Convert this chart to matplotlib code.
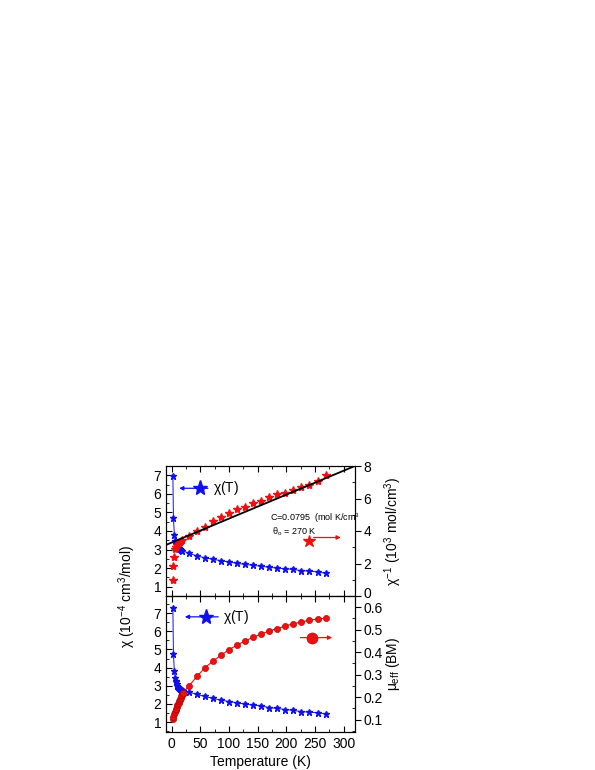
import matplotlib.pyplot as plt
import matplotlib.transforms as mtransforms
import numpy as np

plt.rcParams['font.family'] = ['Liberation Sans', 'DejaVu Sans']
plt.rcParams['mathtext.fontset'] = 'custom'
plt.rcParams['mathtext.rm'] = 'Liberation Sans'
plt.rcParams['mathtext.it'] = 'Liberation Sans'

# top panel: chi(T) and 1/chi
T_top = [2, 3, 4.6, 6, 8, 10, 12, 14, 16, 18, 30, 44, 58, 72, 86, 100, 114, 128, 142,
         156, 170, 184, 198, 212, 226, 240, 255, 270]
chi_top = [6.95, 4.68, 3.81, 3.45, 3.3, 3.18, 3.08, 3.02, 2.98, 2.95, 2.8, 2.66, 2.55, 2.48,
           2.4, 2.33, 2.26, 2.2, 2.15, 2.1, 2.05, 2.0, 1.97, 1.93, 1.87, 1.84, 1.79, 1.72]
inv_chi = [0.98, 1.85, 2.42, 2.87, 3.0, 3.15, 3.25, 3.3, 3.38, 3.45, 3.71, 4.02, 4.23, 4.6,
           4.86, 5.09, 5.33, 5.46, 5.7, 5.87, 6.11, 6.26, 6.36, 6.54, 6.73, 6.85, 7.06, 7.45]
fit_T = [-10, 320]
fit_intercept = 3.29
fit_slope = 0.01473

# bottom panel: chi(T) and mu_eff
T_bot = [2, 3, 4.6, 6, 7, 8, 9, 10, 11, 12, 13, 14, 15, 16, 17, 18, 19, 20,
         30, 44, 58, 72, 86, 100, 114, 128, 142, 156, 170, 184, 198, 212, 226, 240, 255, 270]
chi_bot = [7.31, 4.73, 3.81, 3.41, 3.28, 3.18, 3.08, 3.0, 2.95, 2.9, 2.86, 2.83, 2.8, 2.78,
           2.76, 2.74, 2.72, 2.7, 2.66, 2.52, 2.41, 2.3, 2.21, 2.13, 2.06, 1.99, 1.93, 1.88,
           1.8, 1.75, 1.69, 1.64, 1.58, 1.54, 1.51, 1.45]
mu_eff = [0.103, 0.113, 0.125, 0.135, 0.142, 0.149, 0.156, 0.163, 0.169, 0.175, 0.181,
          0.187, 0.193, 0.198, 0.204, 0.209, 0.214, 0.219, 0.25, 0.292, 0.331, 0.36, 0.387,
          0.411, 0.432, 0.45, 0.466, 0.481, 0.494, 0.505, 0.516, 0.527, 0.534, 0.542, 0.548,
          0.551]

W, H = 595, 770
fig = plt.figure(figsize=(W / 100, H / 100), dpi=100)
L, R = 166 / W, 355 / W
ax1 = fig.add_axes([L, 1 - 596 / H, R - L, (596 - 466) / H])
ax2 = fig.add_axes([L, 1 - 732 / H, R - L, (732 - 596) / H], sharex=ax1)
ax1r = ax1.twinx()
ax2r = ax2.twinx()

blue = '#1010ee'
red = '#ee1010'
fs = 10

ax1.plot(T_top, chi_top, '-', color=blue, lw=0.7, marker='*', ms=5, mec=blue, mfc=blue)
ax1r.plot(T_top, inv_chi, ls='none', marker='*', ms=6, color=red)
fit_y = [fit_intercept + fit_slope * t for t in fit_T]
ax1r.plot(fit_T, fit_y, color='black', lw=1.3)

ax2.plot(T_bot, chi_bot, '-', color=blue, lw=0.7, marker='*', ms=5, mec=blue, mfc=blue)
ax2r.plot(T_bot, mu_eff, '-', color=red, lw=0.8, marker='o', ms=4.5, mfc=red, mec='#b00000', mew=0.4)

ax1.set_xlim(-10, 320)
ax1.set_ylim(0.5, 7.5)
ax1r.set_ylim(0, 8)
ax2.set_ylim(0.45, 7.95)
ax2r.set_ylim(0.045, 0.65)

for a in (ax1, ax2):
    a.set_yticks(range(1, 8))
    a.set_yticks(np.arange(0.5, 8, 0.5), minor=True)
    a.set_xticks(range(0, 301, 50))
    a.set_xticks(range(-0, 321, 25), minor=True)
    a.tick_params(axis='both', which='both', direction='in', top=True, labelsize=fs)
    a.tick_params(which='major', length=4)
    a.tick_params(which='minor', length=2)
ax1.tick_params(labelbottom=False)
ax1r.set_yticks(range(0, 9, 2))
ax1r.set_yticks(range(0, 9, 1), minor=True)
ax2r.set_yticks(np.arange(0.1, 0.61, 0.1))
ax2r.set_yticks(np.arange(0.05, 0.65, 0.05), minor=True)
for a in (ax1r, ax2r):
    a.tick_params(which='major', direction='out', length=4, labelsize=fs, pad=2)
    a.tick_params(which='minor', direction='in', length=2)

# nudge the "0" of the upper right axis up a little so it clears "0.6"
zero_lbl = ax1r.get_yticklabels()[0]
zero_lbl.set_transform(zero_lbl.get_transform() +
                       mtransforms.ScaledTranslation(0, 3 / 100, fig.dpi_scale_trans))

# legend-like annotations
ax1.plot([50], [6.3], marker='*', ms=11, color=blue)
ax1.annotate('', xy=(8, 6.3), xytext=(68, 6.3),
             arrowprops=dict(arrowstyle='-|>', color=blue, lw=0.9, mutation_scale=6))
ax1.text(72, 6.3, r'$\chi$(T)', fontsize=fs, va='center')
ax1r.plot([240], [3.4], marker='*', ms=9, color=red)
ax1r.annotate('', xy=(300, 3.6), xytext=(243, 3.6),
              arrowprops=dict(arrowstyle='-|>', color=red, lw=0.9, mutation_scale=6))
ax1r.text(172, 4.8, 'C=0.0795  (mol K/cm$^3$', fontsize=6.5, va='center')
ax1r.text(175, 3.95, r'$\theta_o$ = 270 K', fontsize=6.5, va='center')

ax2.plot([60], [6.8], marker='*', ms=11, color=blue)
ax2.annotate('', xy=(18, 6.8), xytext=(86, 6.8),
             arrowprops=dict(arrowstyle='-|>', color=blue, lw=0.9, mutation_scale=6))
ax2.text(89, 6.8, r'$\chi$(T)', fontsize=fs, va='center')
ax2r.plot([245], [0.465], marker='o', ms=8, color=red, mec='#b00000', mew=0.4)
ax2r.annotate('', xy=(285, 0.465), xytext=(220, 0.465),
              arrowprops=dict(arrowstyle='-|>', color=red, lw=0.9, mutation_scale=6))

fig.text(127 / W, 1 - 596 / H, r'$\chi$ (10$^{-4}$ cm$^3$/mol)', rotation=90,
         ha='center', va='center', fontsize=fs)
fig.text(393 / W, 1 - 531 / H, r'$\chi^{-1}$ (10$^3$ mol/cm$^3$)', rotation=90,
         ha='center', va='center', fontsize=fs)
fig.text(393 / W, 1 - 664 / H, r'$\mu_{eff}$ (BM)', rotation=90,
         ha='center', va='center', fontsize=fs)
ax2.set_xlabel('Temperature (K)', fontsize=fs, labelpad=3)

fig.savefig('out.png', dpi=100)
